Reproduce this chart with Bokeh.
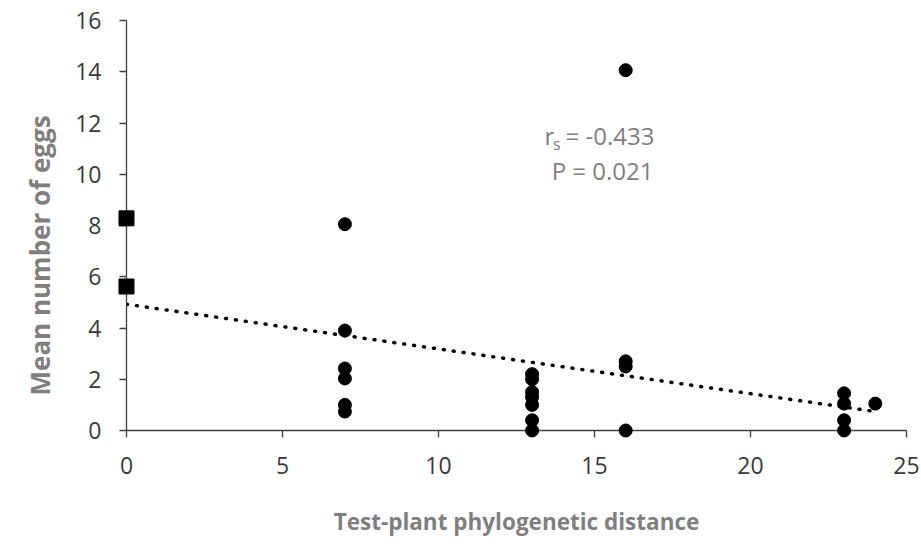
import numpy as np
from bokeh.plotting import figure
from bokeh.models import Range1d, Label, FixedTicker, Title
from bokeh.embed import file_html
from bokeh.resources import INLINE

# Data
sq_x = [0, 0]
sq_y = [8.28, 5.62]
pt_x = [7, 7, 7, 7, 7, 7,
        13, 13, 13, 13, 13, 13, 13,
        16, 16, 16, 16,
        23, 23, 23, 23,
        24]
pt_y = [8.05, 3.9, 2.42, 2.03, 1.0, 0.74,
        2.2, 2.0, 1.5, 1.3, 1.0, 0.4, 0.0,
        14.06, 2.7, 2.5, 0.0,
        1.45, 1.05, 0.4, 0.0,
        1.05]
x_ticks = [0, 5, 10, 15, 20, 25]
y_ticks = [0, 2, 4, 6, 8, 10, 12, 14, 16]
x_title = "Test-plant phylogenetic distance"
y_title = "Mean number of eggs"
r_label = "r"
r_sub = "s"
r_value = "= -0.433"
p_text = "P = 0.021"

all_x = np.array(sq_x + pt_x, dtype=float)
all_y = np.array(sq_y + pt_y, dtype=float)
slope, intercept = np.polyfit(all_x, all_y, 1)
trend_x = [0, 24]
trend_y = [intercept + slope * v for v in trend_x]

FONT = "Open Sans"
p = figure(width=921, height=544, output_backend="svg", toolbar_location=None,
           x_range=Range1d(0, 25), y_range=Range1d(0, 16),
           min_border_left=126, min_border_right=15, min_border_top=20,
           min_border_bottom=114)
p.outline_line_color = None
p.grid.grid_line_color = None

for ax in (p.xaxis[0], p.yaxis[0]):
    ax.axis_line_color = "#404040"
    ax.axis_line_width = 1.3
    ax.major_tick_line_color = "#404040"
    ax.major_tick_line_width = 1.3
    ax.major_tick_in = 0
    ax.major_tick_out = 7
    ax.minor_tick_line_color = None
    ax.major_label_text_font = FONT
    ax.major_label_text_font_size = "23px"
    ax.major_label_text_color = "#3a3a3a"
    ax.axis_label_text_font = FONT
    ax.axis_label_text_font_style = "bold"
    ax.axis_label_text_color = "#7f7f7f"

p.xaxis.ticker = FixedTicker(ticks=x_ticks)
p.yaxis.ticker = FixedTicker(ticks=y_ticks)
p.xaxis.axis_label = x_title
p.xaxis.axis_label_text_font_size = "22.5px"
p.xaxis.axis_label_standoff = 29
p.xaxis.major_label_standoff = 19
p.yaxis.major_label_standoff = 18

# y-axis title as a side title, shifted up from the frame bottom like the reference
p.add_layout(Title(text=y_title, align="left", offset=35, text_font=FONT,
                   text_font_size="26px", text_font_style="bold", text_color="#7f7f7f",
                   standoff=30), "left")

p.line(trend_x, trend_y, line_color="black", line_width=3.5, line_dash="1 9",
       line_cap="round")
p.scatter(pt_x, pt_y, marker="circle", size=13, fill_color="black", line_color="black",
          level="overlay")
p.scatter(sq_x, sq_y, marker="square", size=15, fill_color="black", line_color="black",
          level="overlay")

txt_col = "#7f7f7f"
p.add_layout(Label(x=13.40, y=11.51, text=r_label, text_font=FONT, text_font_size="24px",
                   text_color=txt_col, text_baseline="middle", text_align="left"))
p.add_layout(Label(x=13.67, y=11.18, text=r_sub, text_font=FONT, text_font_size="16px",
                   text_color=txt_col, text_baseline="middle", text_align="left"))
p.add_layout(Label(x=14.07, y=11.51, text=r_value, text_font=FONT, text_font_size="24px",
                   text_color=txt_col, text_baseline="middle", text_align="left"))
p.add_layout(Label(x=15.26, y=10.15, text=p_text, text_font=FONT, text_font_size="24px",
                   text_color=txt_col, text_baseline="middle", text_align="center"))

open("out.html", "w").write(file_html(p, INLINE))
